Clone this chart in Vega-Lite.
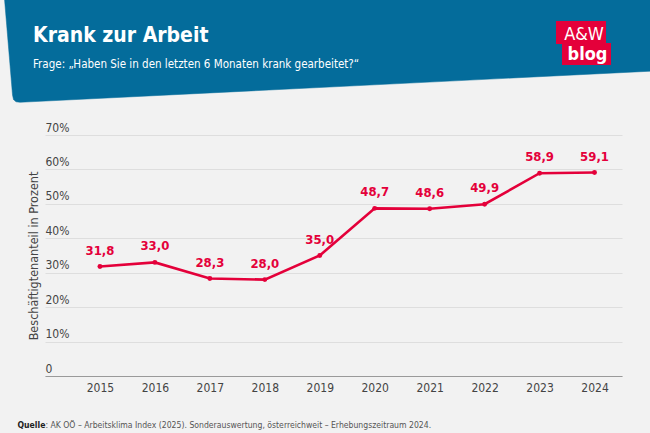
{
  "$schema": "https://vega.github.io/schema/vega-lite/v6.json",
  "width": 577,
  "height": 241,
  "autosize": {"type": "none"},
  "padding": {"left": 45, "top": 135, "right": 28, "bottom": 57},
  "background": "#f2f2f2",
  "config": {
    "font": "DejaVu Sans Condensed, sans-serif",
    "view": {"stroke": null},
    "locale": {"number": {"decimal": ",", "thousands": ".", "grouping": [3], "currency": ["", " €"]}}
  },
  "title": {
    "text": "Krank zur Arbeit",
    "subtitle": "Frage: „Haben Sie in den letzten 6 Monaten krank gearbeitet?“",
    "anchor": "start",
    "frame": "group",
    "dx": -12,
    "dy": 72,
    "offset": 0,
    "font": "DejaVu Sans Condensed, sans-serif",
    "fontSize": 21,
    "fontWeight": "bold",
    "color": "#ffffff",
    "subtitleFont": "DejaVu Sans Condensed, sans-serif",
    "subtitleFontSize": 11.5,
    "subtitleColor": "#ffffff",
    "subtitlePadding": 13
  },
  "datasets": {
    "umfrage": [
      {"jahr": 2015, "anteil": 31.8},
      {"jahr": 2016, "anteil": 33.0},
      {"jahr": 2017, "anteil": 28.3},
      {"jahr": 2018, "anteil": 28.0},
      {"jahr": 2019, "anteil": 35.0},
      {"jahr": 2020, "anteil": 48.7},
      {"jahr": 2021, "anteil": 48.6},
      {"jahr": 2022, "anteil": 49.9},
      {"jahr": 2023, "anteil": 58.9},
      {"jahr": 2024, "anteil": 59.1}
    ],
    "banner": [
      {"bx": 2013.263, "by": 109.5, "i": 1},
      {"bx": 2013.409, "by": 81.62, "i": 2},
      {"bx": 2013.427, "by": 80.31, "i": 3},
      {"bx": 2013.472, "by": 79.64, "i": 4},
      {"bx": 2013.545, "by": 79.5, "i": 5},
      {"bx": 2025.1, "by": 88.6, "i": 6},
      {"bx": 2025.1, "by": 109.5, "i": 7}
    ]
  },
  "layer": [
    {
      "data": {"name": "banner"},
      "mark": {"type": "line", "fill": "#046c9b", "stroke": "#046c9b", "strokeWidth": 0.5, "interpolate": "linear-closed"},
      "encoding": {
        "x": {
          "field": "bx", "type": "quantitative",
          "scale": {"domain": [2014, 2024.5], "nice": false, "zero": false},
          "axis": {
            "title": null, "values": [2015, 2016, 2017, 2018, 2019, 2020, 2021, 2022, 2023, 2024],
            "format": "d", "grid": false, "ticks": false, "domain": true, "domainColor": "#9a9a9a", "domainWidth": 1,
            "labelPadding": 6, "labelFontSize": 12, "labelColor": "#444444", "labelOverlap": false
          }
        },
        "y": {
          "field": "by", "type": "quantitative",
          "scale": {"domain": [0, 70], "nice": false},
          "axis": {
            "title": "Beschäftigtenanteil in Prozent",
            "values": [0, 10, 20, 30, 40, 50, 60, 70],
            "tickCount": 8,
            "labelExpr": "datum.value == 0 ? '0' : datum.value + '%'",
            "grid": true, "gridColor": "#dedede", "gridWidth": 1,
            "ticks": false, "tickSize": 0, "domain": false,
            "labelAlign": "left", "labelBaseline": "alphabetic", "labelPadding": 0, "labelOffset": -4, "labelOverlap": false,
            "labelFontSize": 12, "labelColor": "#444444",
            "titleFontSize": 12.5, "titleFontWeight": "normal", "titleColor": "#444444",
            "titleX": -12, "titleY": 120.5, "titleAngle": 270, "titleAlign": "center", "titleBaseline": "middle"
          }
        },
        "order": {"field": "i"}
      }
    },
    {
      "data": {"values": [{}]},
      "mark": {"type": "rect", "color": "#e4003a"},
      "encoding": {
        "x": {"datum": 2023.299, "type": "quantitative"},
        "x2": {"datum": 2024.209},
        "y": {"datum": 103.11, "type": "quantitative"},
        "y2": {"datum": 96.43}
      }
    },
    {
      "data": {"values": [{}]},
      "mark": {"type": "rect", "color": "#e4003a"},
      "encoding": {
        "x": {"datum": 2023.408, "type": "quantitative"},
        "x2": {"datum": 2024.3},
        "y": {"datum": 96.72, "type": "quantitative"},
        "y2": {"datum": 90.33}
      }
    },
    {
      "data": {"values": [{}]},
      "mark": {"type": "text", "text": "A&W", "color": "#ffffff", "fontSize": 18, "align": "center", "baseline": "alphabetic"},
      "encoding": {
        "x": {"datum": 2023.809, "type": "quantitative"},
        "y": {"datum": 97.6, "type": "quantitative"}
      }
    },
    {
      "data": {"values": [{}]},
      "mark": {"type": "text", "text": "blog", "color": "#ffffff", "fontSize": 18, "fontWeight": "bold", "align": "center", "baseline": "alphabetic"},
      "encoding": {
        "x": {"datum": 2023.872, "type": "quantitative"},
        "y": {"datum": 91.9, "type": "quantitative"}
      }
    },
    {
      "data": {"values": [{}]},
      "mark": {"type": "text", "text": "Quelle", "color": "#222222", "fontSize": 8.6, "fontWeight": "bold", "align": "right", "baseline": "alphabetic"},
      "encoding": {
        "x": {"datum": 2014.007, "type": "quantitative"},
        "y": {"datum": -15.1, "type": "quantitative"}
      }
    },
    {
      "data": {"values": [{}]},
      "mark": {"type": "text", "text": ": AK OÖ – Arbeitsklima Index (2025). Sonderauswertung, österreichweit – Erhebungszeitraum 2024.", "color": "#555555", "fontSize": 8.6, "align": "left", "baseline": "alphabetic"},
      "encoding": {
        "x": {"datum": 2014.007, "type": "quantitative"},
        "y": {"datum": -15.1, "type": "quantitative"}
      }
    },
    {
      "data": {"name": "umfrage"},
      "layer": [
        {
          "mark": {"type": "line", "color": "#e4003a", "strokeWidth": 2.6},
          "encoding": {
            "x": {
              "field": "jahr", "type": "quantitative",
              "scale": {"domain": [2014, 2024.5], "nice": false, "zero": false},
              "axis": {
                "title": null, "values": [2015, 2016, 2017, 2018, 2019, 2020, 2021, 2022, 2023, 2024],
                "format": "d", "grid": false, "ticks": false, "domain": true, "domainColor": "#9a9a9a", "domainWidth": 1,
                "labelPadding": 6, "labelFontSize": 12, "labelColor": "#444444", "labelOverlap": false
              }
            },
            "y": {
              "field": "anteil", "type": "quantitative",
              "scale": {"domain": [0, 70], "nice": false},
              "axis": {
                "title": "Beschäftigtenanteil in Prozent",
                "values": [0, 10, 20, 30, 40, 50, 60, 70],
                "tickCount": 8,
                "labelExpr": "datum.value == 0 ? '0' : datum.value + '%'",
                "grid": true, "gridColor": "#dedede", "gridWidth": 1,
                "ticks": false, "tickSize": 0, "domain": false,
                "labelAlign": "left", "labelBaseline": "alphabetic", "labelPadding": 0, "labelOffset": -4, "labelOverlap": false,
                "labelFontSize": 12, "labelColor": "#444444",
                "titleFontSize": 12.5, "titleFontWeight": "normal", "titleColor": "#444444",
                "titleX": -12, "titleY": 120.5, "titleAngle": 270, "titleAlign": "center", "titleBaseline": "middle"
              }
            }
          }
        },
        {
          "mark": {"type": "point", "filled": true, "color": "#e4003a", "size": 24, "opacity": 1},
          "encoding": {
            "x": {"field": "jahr", "type": "quantitative"},
            "y": {"field": "anteil", "type": "quantitative"}
          }
        },
        {
          "mark": {"type": "text", "color": "#e4003a", "fontSize": 13, "fontWeight": "bold", "dy": -12, "baseline": "alphabetic"},
          "encoding": {
            "x": {"field": "jahr", "type": "quantitative"},
            "y": {"field": "anteil", "type": "quantitative"},
            "text": {"field": "anteil", "type": "quantitative", "format": ".1f"}
          }
        }
      ]
    }
  ]
}
